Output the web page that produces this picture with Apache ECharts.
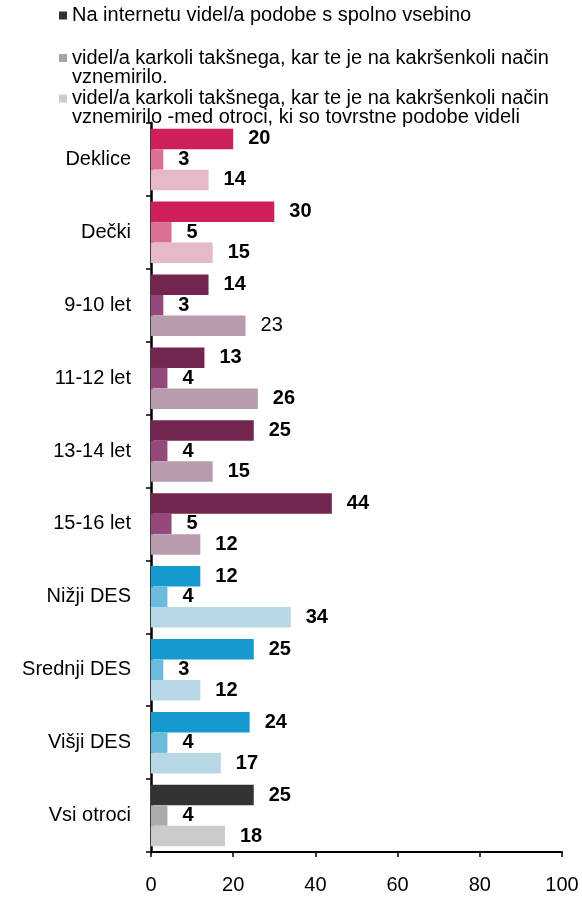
<!DOCTYPE html>
<html><head><meta charset="utf-8">
<script src="https://cdn.jsdelivr.net/npm/echarts@6/dist/echarts.min.js"></script>
<style>html,body{margin:0;padding:0;background:#fff}#c{width:582px;height:897px}</style>
</head><body><div id="c"></div>
<script>
const categories = ['Deklice','Dečki','9-10 let','11-12 let','13-14 let','15-16 let','Nižji DES','Srednji DES','Višji DES','Vsi otroci'];
const seriesNames = [
  'Na internetu videl/a podobe s spolno vsebino',
  'videl/a karkoli takšnega, kar te je na kakršenkoli način\nvznemirilo.',
  'videl/a karkoli takšnega, kar te je na kakršenkoli način\nvznemirilo -med otroci, ki so tovrstne podobe videli'
];
const seenValues = [20, 30, 14, 13, 25, 44, 12, 25, 24, 25];
const upsetAllValues = [3, 5, 3, 4, 4, 5, 4, 3, 4, 4];
const upsetAmongValues = [14, 15, 23, 26, 15, 12, 34, 12, 17, 18];
const groupOf = ['spol','spol','starost','starost','starost','starost','des','des','des','vsi'];
const xTickValues = [0, 20, 40, 60, 80, 100];

const palette = {
  spol: ['#CD1F58', '#DB7096', '#E6B9C8'],
  starost: ['#72254F', '#94497B', '#B99BAE'],
  des: ['#1599CE', '#6BBBDD', '#B8D8E5'],
  vsi: ['#333333', '#ABABAB', '#CBCBCB']
};
const legendColors = ['#333333', '#A6A6A6', '#CCCCCC'];
const FONT = 'Liberation Sans, Arial, sans-serif';

const valueSets = [seenValues, upsetAllValues, upsetAmongValues];
const series = valueSets.map((vals, s) => ({
  type: 'bar',
  name: seriesNames[s],
  barGap: '0%',
  barCategoryGap: '15.6%',
  itemStyle: { color: legendColors[s] },
  label: { show: true, position: 'right', distance: 15, color: '#000', fontSize: 20, fontWeight: 'bold', fontFamily: FONT },
  emphasis: { disabled: true },
  data: vals.map((v, i) => {
    const d = { value: v, itemStyle: { color: palette[groupOf[i]][s] } };
    if (s === 2 && i === 2) d.label = { fontWeight: 'normal' };
    return d;
  })
}));

const legendTops = [5.5, 29, 69.5];
const chart = echarts.init(document.getElementById('c'), null, { renderer: 'canvas' });
chart.setOption({
  animation: false,
  backgroundColor: '#fff',
  legend: seriesNames.map((n, s) => ({
    data: [n], left: 59, top: legendTops[s], padding: 0, orient: 'vertical',
    itemWidth: 8, itemHeight: 8, icon: 'rect', selectedMode: false,
    formatter: s === 0 ? '{name}' : (name => '\n' + name),
    textStyle: { fontSize: 20, fontFamily: FONT, color: '#000', lineHeight: 19 }
  })),
  grid: { left: 151, right: 20, top: 123, bottom: 45, containLabel: false },
  xAxis: {
    type: 'value', min: xTickValues[0], max: xTickValues[xTickValues.length - 1], interval: xTickValues[1] - xTickValues[0],
    axisLine: { show: true, lineStyle: { color: '#000', width: 2 } },
    axisTick: { show: true, length: 5, lineStyle: { color: '#000', width: 1.5 } },
    axisLabel: { fontSize: 20, fontFamily: FONT, color: '#000', margin: 23 },
    splitLine: { show: false }
  },
  yAxis: {
    type: 'category', data: categories, inverse: true,
    axisLine: { show: true, lineStyle: { color: '#000', width: 2.5 } },
    axisTick: { show: true, length: 5, lineStyle: { color: '#000', width: 1.5 } },
    axisLabel: { fontSize: 20, fontFamily: FONT, color: '#000', margin: 20 }
  },
  series: series
});
</script></body></html>
